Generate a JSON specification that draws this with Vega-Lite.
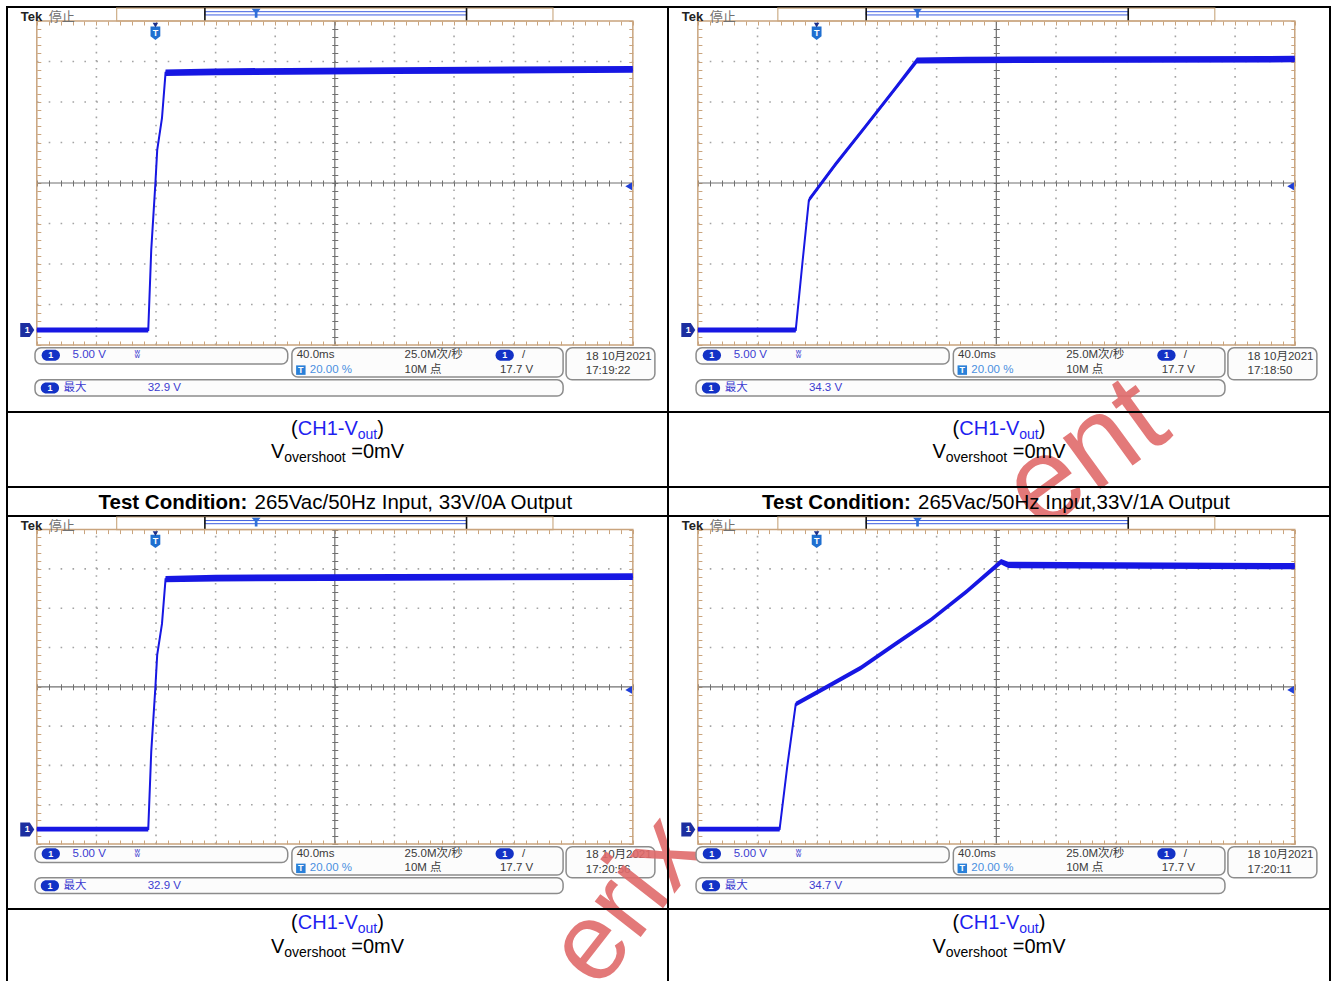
{
"$schema":"https://vega.github.io/schema/vega-lite/v6.json",
"padding":{"left":6,"top":6,"right":0,"bottom":0},
"background":"white",
"bounds":"flush",
"align":"each",
"columns":2,
"spacing":0,
"config":{"view":{"stroke":"#000000","strokeWidth":2}},
"datasets":{
"wave":[
{"p":"TL","x":0,"y":-3.63,"lo":-3.69,"hi":-3.57},{"p":"TL","x":1.87,"y":-3.63,"lo":-3.69,"hi":-3.57},{"p":"TL","x":1.92,"y":-1.65,"lo":-1.69,"hi":-1.61},{"p":"TL","x":1.99,"y":0,"lo":-0.04,"hi":0.04},{"p":"TL","x":2.02,"y":0.81,"lo":0.77,"hi":0.85},{"p":"TL","x":2.1,"y":1.6,"lo":1.55,"hi":1.65},{"p":"TL","x":2.16,"y":2.72,"lo":2.64,"hi":2.8},{"p":"TL","x":3,"y":2.74,"lo":2.66,"hi":2.83},{"p":"TL","x":6,"y":2.77,"lo":2.69,"hi":2.86},{"p":"TL","x":10,"y":2.8,"lo":2.72,"hi":2.89},
{"p":"TR","x":0,"y":-3.63,"lo":-3.69,"hi":-3.57},{"p":"TR","x":1.64,"y":-3.63,"lo":-3.69,"hi":-3.57},{"p":"TR","x":1.75,"y":-2.0,"lo":-2.05,"hi":-1.95},{"p":"TR","x":1.86,"y":-0.42,"lo":-0.48,"hi":-0.36},{"p":"TR","x":2.3,"y":0.45,"lo":0.39,"hi":0.51},{"p":"TR","x":2.8,"y":1.38,"lo":1.32,"hi":1.44},{"p":"TR","x":3.3,"y":2.32,"lo":2.26,"hi":2.38},{"p":"TR","x":3.67,"y":3.02,"lo":2.95,"hi":3.1},{"p":"TR","x":4.5,"y":3.04,"lo":2.96,"hi":3.12},{"p":"TR","x":10,"y":3.06,"lo":2.98,"hi":3.14},
{"p":"BL","x":0,"y":-3.62,"lo":-3.68,"hi":-3.56},{"p":"BL","x":1.87,"y":-3.62,"lo":-3.68,"hi":-3.56},{"p":"BL","x":1.92,"y":-1.65,"lo":-1.69,"hi":-1.61},{"p":"BL","x":1.99,"y":0,"lo":-0.04,"hi":0.04},{"p":"BL","x":2.02,"y":0.81,"lo":0.77,"hi":0.85},{"p":"BL","x":2.1,"y":1.6,"lo":1.55,"hi":1.65},{"p":"BL","x":2.16,"y":2.74,"lo":2.66,"hi":2.82},{"p":"BL","x":3,"y":2.76,"lo":2.68,"hi":2.85},{"p":"BL","x":6,"y":2.78,"lo":2.7,"hi":2.87},{"p":"BL","x":10,"y":2.8,"lo":2.72,"hi":2.89},
{"p":"BR","x":0,"y":-3.62,"lo":-3.68,"hi":-3.56},{"p":"BR","x":1.37,"y":-3.62,"lo":-3.68,"hi":-3.56},{"p":"BR","x":1.5,"y":-2.0,"lo":-2.05,"hi":-1.95},{"p":"BR","x":1.64,"y":-0.44,"lo":-0.5,"hi":-0.38},{"p":"BR","x":2.2,"y":0.03,"lo":-0.03,"hi":0.09},{"p":"BR","x":2.73,"y":0.48,"lo":0.42,"hi":0.54},{"p":"BR","x":3.3,"y":1.08,"lo":1.02,"hi":1.14},{"p":"BR","x":3.9,"y":1.7,"lo":1.64,"hi":1.76},{"p":"BR","x":4.5,"y":2.42,"lo":2.36,"hi":2.48},{"p":"BR","x":5.08,"y":3.18,"lo":3.11,"hi":3.25},{"p":"BR","x":5.2,"y":3.1,"lo":3.02,"hi":3.18},{"p":"BR","x":10,"y":3.07,"lo":2.99,"hi":3.15}
],
"frame":[
{"k":"rbar","x":1.34,"xe":8.66,"y":4.0,"ye":4.32},
{"k":"rin","x":2.82,"xe":7.21,"y":4.15,"ye":4.23},
{"k":"sbox","x":-0.03,"xe":4.21,"y":-4.07,"ye":-4.47},
{"k":"sbox","x":4.28,"xe":8.83,"y":-4.07,"ye":-4.79},
{"k":"sbox","x":8.88,"xe":10.37,"y":-4.07,"ye":-4.86},
{"k":"sbox","x":-0.03,"xe":8.83,"y":-4.86,"ye":-5.26},
{"k":"grid","x":0,"xe":10,"y":-4,"ye":4}
],
"glines":[
{"k":"vdot","x":1,"xe":1,"y":-4,"ye":4},{"k":"vdot","x":2,"xe":2,"y":-4,"ye":4},{"k":"vdot","x":3,"xe":3,"y":-4,"ye":4},{"k":"vdot","x":4,"xe":4,"y":-4,"ye":4},{"k":"vdot","x":6,"xe":6,"y":-4,"ye":4},{"k":"vdot","x":7,"xe":7,"y":-4,"ye":4},{"k":"vdot","x":8,"xe":8,"y":-4,"ye":4},{"k":"vdot","x":9,"xe":9,"y":-4,"ye":4},
{"k":"hdot","x":0,"xe":10,"y":-3,"ye":-3},{"k":"hdot","x":0,"xe":10,"y":-2,"ye":-2},{"k":"hdot","x":0,"xe":10,"y":-1,"ye":-1},{"k":"hdot","x":0,"xe":10,"y":1,"ye":1},{"k":"hdot","x":0,"xe":10,"y":2,"ye":2},{"k":"hdot","x":0,"xe":10,"y":3,"ye":3},
{"k":"ctr","x":5,"xe":5,"y":-4,"ye":4},{"k":"ctr","x":0,"xe":10,"y":0,"ye":0},
{"k":"rend","x":2.82,"xe":2.82,"y":4.0,"ye":4.32},{"k":"rend","x":7.21,"xe":7.21,"y":4.0,"ye":4.32}
],
"mk":[
{"k":"gnd","x":-0.16,"y":-3.63,"lbl":"1"},
{"k":"trig","x":1.99,"y":3.7,"lbl":"T"},
{"k":"trigtop","x":1.99,"y":3.9,"lbl":""},
{"k":"lvl","x":9.93,"y":-0.08,"lbl":""},
{"k":"rec","x":3.68,"y":4.19,"lbl":""},
{"k":"pill","x":0.235,"y":-4.25,"lbl":"1"},
{"k":"pill","x":7.85,"y":-4.25,"lbl":"1"},
{"k":"pill","x":0.22,"y":-5.06,"lbl":"1"},
{"k":"tbox","x":4.43,"y":-4.62,"lbl":"T"}
],
"ctext":[
{"x":-0.27,"y":4.1,"s":"Tek","role":"tek"},
{"x":0.2,"y":4.1,"s":"停止","role":"gray"},
{"x":0.6,"y":-4.25,"s":"5.00 V","role":"blue"},
{"x":1.64,"y":-4.25,"s":"ʬ","role":"blue"},
{"x":4.36,"y":-4.25,"s":"40.0ms","role":"black"},
{"x":4.58,"y":-4.62,"s":"20.00 %","role":"lblue"},
{"x":6.17,"y":-4.25,"s":"25.0M次/秒","role":"black"},
{"x":6.17,"y":-4.62,"s":"10M 点","role":"black"},
{"x":8.14,"y":-4.25,"s":"/","role":"black"},
{"x":7.77,"y":-4.62,"s":"17.7 V","role":"black"},
{"x":9.21,"y":-4.29,"s":"18 10月2021","role":"black"},
{"x":0.45,"y":-5.06,"s":"最大","role":"blue"}
],
"ptext":[
{"p":"TL","x":9.21,"y":-4.65,"s":"17:19:22","role":"black"},{"p":"TL","x":1.86,"y":-5.06,"s":"32.9 V","role":"blue"},
{"p":"TR","x":9.21,"y":-4.65,"s":"17:18:50","role":"black"},{"p":"TR","x":1.86,"y":-5.06,"s":"34.3 V","role":"blue"},
{"p":"BL","x":9.21,"y":-4.65,"s":"17:20:56","role":"black"},{"p":"BL","x":1.86,"y":-5.06,"s":"32.9 V","role":"blue"},
{"p":"BR","x":9.21,"y":-4.65,"s":"17:20:11","role":"black"},{"p":"BR","x":1.86,"y":-5.06,"s":"34.7 V","role":"blue"}
],
"wm":[
{"p":"BL","x":9.9,"y":-5.45,"s":"erix"},
{"p":"TR","x":6.5,"y":-6.72,"s":"ent"}
],
"cap":[{"k":"o","s":"("},{"k":"ch","s":"CH1-V"},{"k":"out","s":"out"},{"k":"c","s":")"},{"k":"V","s":"V"},{"k":"os","s":"overshoot"},{"k":"eq","s":"=0mV"}],
"cond":[{"k":"b","s":"Test Condition:"},{"k":"L","s":"265Vac/50Hz Input, 33V/0A Output"},{"k":"R","s":"265Vac/50Hz Input,33V/1A Output"}]
},
"concat":[
{"width":661,"height":405,"resolve":{"axis":{"x":"independent","y":"independent"}},
"encoding":{"x":{"field":"x","type":"quantitative","scale":{"domain":[-0.5,10.59],"nice":false,"zero":false},"axis":null},"y":{"field":"y","type":"quantitative","scale":{"domain":[-5.654,4.346],"nice":false,"zero":false},"axis":null}},
"layer":[
{"data":{"name":"frame"},"transform":[{"filter":"datum.k=='rbar'"}],"mark":{"type":"rect","fill":"#ffffff","stroke":"#cdae88","strokeWidth":1.2},"encoding":{"x2":{"field":"xe"},"y2":{"field":"ye"}}},
{"data":{"name":"frame"},"transform":[{"filter":"datum.k=='rin'"}],"mark":{"type":"rect","fill":"#ffffff","stroke":"#3d5ee0","strokeWidth":1},"encoding":{"x2":{"field":"xe"},"y2":{"field":"ye"}}},
{"data":{"name":"glines"},"transform":[{"filter":"datum.k=='rend'"}],"mark":{"type":"rule","color":"#111111","strokeWidth":1.6},"encoding":{"x2":{"field":"xe"},"y2":{"field":"ye"}}},
{"data":{"name":"frame"},"transform":[{"filter":"datum.k=='sbox'"}],"mark":{"type":"rect","fill":"#fcfcfc","stroke":"#8c8c8c","strokeWidth":1.5,"cornerRadius":6},"encoding":{"x2":{"field":"xe"},"y2":{"field":"ye"}}},
{"data":{"name":"glines"},"transform":[{"filter":"datum.k=='vdot'"}],"mark":{"type":"rule","color":"#a4a4a4","strokeWidth":1.6,"strokeDash":[1.6,6.5]},
"encoding":{"x":{"field":"x","type":"quantitative","scale":{"domain":[-0.5,10.59],"nice":false,"zero":false},"axis":{"orient":"top","offset":-338,"values":[0,0.2,0.4,0.6,0.8,1,1.2,1.4,1.6,1.8,2,2.2,2.4,2.6,2.8,3,3.2,3.4,3.6,3.8,4,4.2,4.4,4.6,4.8,5,5.2,5.4,5.6,5.8,6,6.2,6.4,6.6,6.8,7,7.2,7.4,7.6,7.8,8,8.2,8.4,8.6,8.8,9,9.2,9.4,9.6,9.8,10],"tickSize":4,"tickColor":"#c9a47e","tickWidth":1,"domain":false,"labels":false,"grid":false,"title":null}},"x2":{"field":"xe"},
"y":{"field":"y","type":"quantitative","scale":{"domain":[-5.654,4.346],"nice":false,"zero":false},"axis":{"orient":"right","offset":-631.2,"values":[-4,-3.8,-3.6,-3.4,-3.2,-3,-2.8,-2.6,-2.4,-2.2,-2,-1.8,-1.6,-1.4,-1.2,-1,-0.8,-0.6,-0.4,-0.2,0,0.2,0.4,0.6,0.8,1,1.2,1.4,1.6,1.8,2,2.2,2.4,2.6,2.8,3,3.2,3.4,3.6,3.8,4],"tickSize":4,"tickColor":"#c9a47e","tickWidth":1,"domain":false,"labels":false,"grid":false,"title":null}},"y2":{"field":"ye"}}},
{"data":{"name":"glines"},"transform":[{"filter":"datum.k=='hdot'"}],"mark":{"type":"rule","color":"#a4a4a4","strokeWidth":1.6,"strokeDash":[1.6,10.3]},
"encoding":{"x":{"field":"x","type":"quantitative","scale":{"domain":[-0.5,10.59],"nice":false,"zero":false},"axis":{"orient":"bottom","offset":-391,"values":[0,0.2,0.4,0.6,0.8,1,1.2,1.4,1.6,1.8,2,2.2,2.4,2.6,2.8,3,3.2,3.4,3.6,3.8,4,4.2,4.4,4.6,4.8,5,5.2,5.4,5.6,5.8,6,6.2,6.4,6.6,6.8,7,7.2,7.4,7.6,7.8,8,8.2,8.4,8.6,8.8,9,9.2,9.4,9.6,9.8,10],"tickSize":4,"tickColor":"#c9a47e","tickWidth":1,"domain":false,"labels":false,"grid":false,"title":null}},"x2":{"field":"xe"},
"y":{"field":"y","type":"quantitative","scale":{"domain":[-5.654,4.346],"nice":false,"zero":false},"axis":{"orient":"left","offset":-625.8,"values":[-4,-3.8,-3.6,-3.4,-3.2,-3,-2.8,-2.6,-2.4,-2.2,-2,-1.8,-1.6,-1.4,-1.2,-1,-0.8,-0.6,-0.4,-0.2,0,0.2,0.4,0.6,0.8,1,1.2,1.4,1.6,1.8,2,2.2,2.4,2.6,2.8,3,3.2,3.4,3.6,3.8,4],"tickSize":4,"tickColor":"#c9a47e","tickWidth":1,"domain":false,"labels":false,"grid":false,"title":null}},"y2":{"field":"ye"}}},
{"data":{"name":"glines"},"transform":[{"filter":"datum.k=='ctr'"}],"mark":{"type":"rule","color":"#707070","strokeWidth":1.2},
"encoding":{"x":{"field":"x","type":"quantitative","scale":{"domain":[-0.5,10.59],"nice":false,"zero":false},"axis":{"orient":"bottom","offset":-232,"values":[0,0.2,0.4,0.6,0.8,1,1.2,1.4,1.6,1.8,2,2.2,2.4,2.6,2.8,3,3.2,3.4,3.6,3.8,4,4.2,4.4,4.6,4.8,5,5.2,5.4,5.6,5.8,6,6.2,6.4,6.6,6.8,7,7.2,7.4,7.6,7.8,8,8.2,8.4,8.6,8.8,9,9.2,9.4,9.6,9.8,10],"tickSize":6,"tickColor":"#707070","tickWidth":1,"domain":false,"labels":false,"grid":false,"title":null}},"x2":{"field":"xe"},
"y":{"field":"y","type":"quantitative","scale":{"domain":[-5.654,4.346],"nice":false,"zero":false},"axis":{"orient":"left","offset":-330.8,"values":[-4,-3.8,-3.6,-3.4,-3.2,-3,-2.8,-2.6,-2.4,-2.2,-2,-1.8,-1.6,-1.4,-1.2,-1,-0.8,-0.6,-0.4,-0.2,0,0.2,0.4,0.6,0.8,1,1.2,1.4,1.6,1.8,2,2.2,2.4,2.6,2.8,3,3.2,3.4,3.6,3.8,4],"tickSize":6,"tickColor":"#707070","tickWidth":1,"domain":false,"labels":false,"grid":false,"title":null}},"y2":{"field":"ye"}}},
{"data":{"name":"frame"},"transform":[{"filter":"datum.k=='grid'"}],"mark":{"type":"rect","fill":"#ffffff","fillOpacity":0,"stroke":"#c9a47e","strokeWidth":1.5},"encoding":{"x2":{"field":"xe"},"y2":{"field":"ye"}}},
{"data":{"name":"wave"},"transform":[{"filter":"datum.p=='TL'"}],"mark":{"type":"area","color":"#1717e3","opacity":1},"encoding":{"y":{"field":"lo","type":"quantitative","scale":{"domain":[-5.654,4.346],"nice":false,"zero":false},"axis":null},"y2":{"field":"hi"}}},
{"data":{"name":"wave"},"transform":[{"filter":"datum.p=='TL'"}],"mark":{"type":"line","color":"#1717e3","strokeWidth":2},"encoding":{}},
{"data":{"name":"mk"},"mark":{"type":"point","filled":true,"opacity":1,"strokeWidth":0},"encoding":{
"shape":{"field":"k","type":"nominal","scale":{"domain":["gnd","trig","trigtop","lvl","rec","pill","tbox"],"range":["M-1,-1L0.35,-1L1,0L0.35,1L-1,1Z","M-0.8,-1.1L0.8,-1.1L0.8,0.5L0,1.1L-0.8,0.5Z","triangle-down","triangle-left","M-1,-1L1,-1L0.3,-0.2L0.3,1L-0.3,1L-0.3,-0.2Z","M-0.33,-0.5L0.33,-0.5A0.5,0.5 0 0 1 0.33,0.5L-0.33,0.5A0.5,0.5 0 0 1 -0.33,-0.5Z","square"]},"legend":null},
"fill":{"field":"k","type":"nominal","scale":{"domain":["gnd","trig","trigtop","lvl","rec","pill","tbox"],"range":["#1c2ea0","#1f6fd0","#1a2f8a","#1f3fd8","#2f6fd8","#1332c6","#2a80d8"]},"legend":null},
"size":{"field":"k","type":"ordinal","scale":{"type":"ordinal","domain":["gnd","trig","trigtop","lvl","rec","pill","tbox"],"range":[196,150,30,60,80,484,90]},"legend":null}}},
{"data":{"name":"mk"},"transform":[{"filter":"datum.lbl!=''"}],"mark":{"type":"text","color":"#ffffff","fontSize":9,"fontWeight":"bold","font":"Liberation Sans","align":"center","baseline":"middle"},"encoding":{"text":{"field":"lbl"}}},
{"data":{"name":"ctext"},"transform":[{"filter":"datum.role=='tek'"}],"mark":{"type":"text","align":"left","baseline":"middle","fontSize":13,"fontWeight":"bold","font":"Liberation Sans","color":"#222222"},"encoding":{"text":{"field":"s"}}},
{"data":{"name":"ctext"},"transform":[{"filter":"datum.role=='gray'"}],"mark":{"type":"text","align":"left","baseline":"middle","fontSize":13,"font":"Noto Sans CJK SC","color":"#707070"},"encoding":{"text":{"field":"s"}}},
{"data":{"name":"ctext"},"transform":[{"filter":"datum.role!='tek' && datum.role!='gray'"}],"mark":{"type":"text","align":"left","baseline":"middle","fontSize":11.5,"font":"Liberation Sans, Noto Sans CJK SC"},"encoding":{"text":{"field":"s"},"color":{"field":"role","type":"nominal","scale":{"domain":["black","blue","lblue"],"range":["#3a3a3a","#3b3bd0","#4a8fe0"]},"legend":null}}},
{"data":{"name":"ptext"},"transform":[{"filter":"datum.p=='TL'"}],"mark":{"type":"text","align":"left","baseline":"middle","fontSize":11.5,"font":"Liberation Sans, Noto Sans CJK SC"},"encoding":{"text":{"field":"s"},"color":{"field":"role","type":"nominal","scale":{"domain":["black","blue","lblue"],"range":["#3a3a3a","#3b3bd0","#4a8fe0"]},"legend":null}}}
]},
{"width":662,"height":405,"resolve":{"axis":{"x":"independent","y":"independent"}},
"encoding":{"x":{"field":"x","type":"quantitative","scale":{"domain":[-0.5,10.59],"nice":false,"zero":false},"axis":null},"y":{"field":"y","type":"quantitative","scale":{"domain":[-5.654,4.346],"nice":false,"zero":false},"axis":null}},
"layer":[
{"data":{"name":"frame"},"transform":[{"filter":"datum.k=='rbar'"}],"mark":{"type":"rect","fill":"#ffffff","stroke":"#cdae88","strokeWidth":1.2},"encoding":{"x2":{"field":"xe"},"y2":{"field":"ye"}}},
{"data":{"name":"frame"},"transform":[{"filter":"datum.k=='rin'"}],"mark":{"type":"rect","fill":"#ffffff","stroke":"#3d5ee0","strokeWidth":1},"encoding":{"x2":{"field":"xe"},"y2":{"field":"ye"}}},
{"data":{"name":"glines"},"transform":[{"filter":"datum.k=='rend'"}],"mark":{"type":"rule","color":"#111111","strokeWidth":1.6},"encoding":{"x2":{"field":"xe"},"y2":{"field":"ye"}}},
{"data":{"name":"frame"},"transform":[{"filter":"datum.k=='sbox'"}],"mark":{"type":"rect","fill":"#fcfcfc","stroke":"#8c8c8c","strokeWidth":1.5,"cornerRadius":6},"encoding":{"x2":{"field":"xe"},"y2":{"field":"ye"}}},
{"data":{"name":"glines"},"transform":[{"filter":"datum.k=='vdot'"}],"mark":{"type":"rule","color":"#a4a4a4","strokeWidth":1.6,"strokeDash":[1.6,6.5]},
"encoding":{"x":{"field":"x","type":"quantitative","scale":{"domain":[-0.5,10.59],"nice":false,"zero":false},"axis":{"orient":"top","offset":-338,"values":[0,0.2,0.4,0.6,0.8,1,1.2,1.4,1.6,1.8,2,2.2,2.4,2.6,2.8,3,3.2,3.4,3.6,3.8,4,4.2,4.4,4.6,4.8,5,5.2,5.4,5.6,5.8,6,6.2,6.4,6.6,6.8,7,7.2,7.4,7.6,7.8,8,8.2,8.4,8.6,8.8,9,9.2,9.4,9.6,9.8,10],"tickSize":4,"tickColor":"#c9a47e","tickWidth":1,"domain":false,"labels":false,"grid":false,"title":null}},"x2":{"field":"xe"},
"y":{"field":"y","type":"quantitative","scale":{"domain":[-5.654,4.346],"nice":false,"zero":false},"axis":{"orient":"right","offset":-632.1,"values":[-4,-3.8,-3.6,-3.4,-3.2,-3,-2.8,-2.6,-2.4,-2.2,-2,-1.8,-1.6,-1.4,-1.2,-1,-0.8,-0.6,-0.4,-0.2,0,0.2,0.4,0.6,0.8,1,1.2,1.4,1.6,1.8,2,2.2,2.4,2.6,2.8,3,3.2,3.4,3.6,3.8,4],"tickSize":4,"tickColor":"#c9a47e","tickWidth":1,"domain":false,"labels":false,"grid":false,"title":null}},"y2":{"field":"ye"}}},
{"data":{"name":"glines"},"transform":[{"filter":"datum.k=='hdot'"}],"mark":{"type":"rule","color":"#a4a4a4","strokeWidth":1.6,"strokeDash":[1.6,10.3]},
"encoding":{"x":{"field":"x","type":"quantitative","scale":{"domain":[-0.5,10.59],"nice":false,"zero":false},"axis":{"orient":"bottom","offset":-391,"values":[0,0.2,0.4,0.6,0.8,1,1.2,1.4,1.6,1.8,2,2.2,2.4,2.6,2.8,3,3.2,3.4,3.6,3.8,4,4.2,4.4,4.6,4.8,5,5.2,5.4,5.6,5.8,6,6.2,6.4,6.6,6.8,7,7.2,7.4,7.6,7.8,8,8.2,8.4,8.6,8.8,9,9.2,9.4,9.6,9.8,10],"tickSize":4,"tickColor":"#c9a47e","tickWidth":1,"domain":false,"labels":false,"grid":false,"title":null}},"x2":{"field":"xe"},
"y":{"field":"y","type":"quantitative","scale":{"domain":[-5.654,4.346],"nice":false,"zero":false},"axis":{"orient":"left","offset":-626.8,"values":[-4,-3.8,-3.6,-3.4,-3.2,-3,-2.8,-2.6,-2.4,-2.2,-2,-1.8,-1.6,-1.4,-1.2,-1,-0.8,-0.6,-0.4,-0.2,0,0.2,0.4,0.6,0.8,1,1.2,1.4,1.6,1.8,2,2.2,2.4,2.6,2.8,3,3.2,3.4,3.6,3.8,4],"tickSize":4,"tickColor":"#c9a47e","tickWidth":1,"domain":false,"labels":false,"grid":false,"title":null}},"y2":{"field":"ye"}}},
{"data":{"name":"glines"},"transform":[{"filter":"datum.k=='ctr'"}],"mark":{"type":"rule","color":"#707070","strokeWidth":1.2},
"encoding":{"x":{"field":"x","type":"quantitative","scale":{"domain":[-0.5,10.59],"nice":false,"zero":false},"axis":{"orient":"bottom","offset":-232,"values":[0,0.2,0.4,0.6,0.8,1,1.2,1.4,1.6,1.8,2,2.2,2.4,2.6,2.8,3,3.2,3.4,3.6,3.8,4,4.2,4.4,4.6,4.8,5,5.2,5.4,5.6,5.8,6,6.2,6.4,6.6,6.8,7,7.2,7.4,7.6,7.8,8,8.2,8.4,8.6,8.8,9,9.2,9.4,9.6,9.8,10],"tickSize":6,"tickColor":"#707070","tickWidth":1,"domain":false,"labels":false,"grid":false,"title":null}},"x2":{"field":"xe"},
"y":{"field":"y","type":"quantitative","scale":{"domain":[-5.654,4.346],"nice":false,"zero":false},"axis":{"orient":"left","offset":-331.3,"values":[-4,-3.8,-3.6,-3.4,-3.2,-3,-2.8,-2.6,-2.4,-2.2,-2,-1.8,-1.6,-1.4,-1.2,-1,-0.8,-0.6,-0.4,-0.2,0,0.2,0.4,0.6,0.8,1,1.2,1.4,1.6,1.8,2,2.2,2.4,2.6,2.8,3,3.2,3.4,3.6,3.8,4],"tickSize":6,"tickColor":"#707070","tickWidth":1,"domain":false,"labels":false,"grid":false,"title":null}},"y2":{"field":"ye"}}},
{"data":{"name":"frame"},"transform":[{"filter":"datum.k=='grid'"}],"mark":{"type":"rect","fill":"#ffffff","fillOpacity":0,"stroke":"#c9a47e","strokeWidth":1.5},"encoding":{"x2":{"field":"xe"},"y2":{"field":"ye"}}},
{"data":{"name":"wave"},"transform":[{"filter":"datum.p=='TR'"}],"mark":{"type":"area","color":"#1717e3","opacity":1},"encoding":{"y":{"field":"lo","type":"quantitative","scale":{"domain":[-5.654,4.346],"nice":false,"zero":false},"axis":null},"y2":{"field":"hi"}}},
{"data":{"name":"wave"},"transform":[{"filter":"datum.p=='TR'"}],"mark":{"type":"line","color":"#1717e3","strokeWidth":2},"encoding":{}},
{"data":{"name":"mk"},"mark":{"type":"point","filled":true,"opacity":1,"strokeWidth":0},"encoding":{
"shape":{"field":"k","type":"nominal","scale":{"domain":["gnd","trig","trigtop","lvl","rec","pill","tbox"],"range":["M-1,-1L0.35,-1L1,0L0.35,1L-1,1Z","M-0.8,-1.1L0.8,-1.1L0.8,0.5L0,1.1L-0.8,0.5Z","triangle-down","triangle-left","M-1,-1L1,-1L0.3,-0.2L0.3,1L-0.3,1L-0.3,-0.2Z","M-0.33,-0.5L0.33,-0.5A0.5,0.5 0 0 1 0.33,0.5L-0.33,0.5A0.5,0.5 0 0 1 -0.33,-0.5Z","square"]},"legend":null},
"fill":{"field":"k","type":"nominal","scale":{"domain":["gnd","trig","trigtop","lvl","rec","pill","tbox"],"range":["#1c2ea0","#1f6fd0","#1a2f8a","#1f3fd8","#2f6fd8","#1332c6","#2a80d8"]},"legend":null},
"size":{"field":"k","type":"ordinal","scale":{"type":"ordinal","domain":["gnd","trig","trigtop","lvl","rec","pill","tbox"],"range":[196,150,30,60,80,484,90]},"legend":null}}},
{"data":{"name":"mk"},"transform":[{"filter":"datum.lbl!=''"}],"mark":{"type":"text","color":"#ffffff","fontSize":9,"fontWeight":"bold","font":"Liberation Sans","align":"center","baseline":"middle"},"encoding":{"text":{"field":"lbl"}}},
{"data":{"name":"ctext"},"transform":[{"filter":"datum.role=='tek'"}],"mark":{"type":"text","align":"left","baseline":"middle","fontSize":13,"fontWeight":"bold","font":"Liberation Sans","color":"#222222"},"encoding":{"text":{"field":"s"}}},
{"data":{"name":"ctext"},"transform":[{"filter":"datum.role=='gray'"}],"mark":{"type":"text","align":"left","baseline":"middle","fontSize":13,"font":"Noto Sans CJK SC","color":"#707070"},"encoding":{"text":{"field":"s"}}},
{"data":{"name":"ctext"},"transform":[{"filter":"datum.role!='tek' && datum.role!='gray'"}],"mark":{"type":"text","align":"left","baseline":"middle","fontSize":11.5,"font":"Liberation Sans, Noto Sans CJK SC"},"encoding":{"text":{"field":"s"},"color":{"field":"role","type":"nominal","scale":{"domain":["black","blue","lblue"],"range":["#3a3a3a","#3b3bd0","#4a8fe0"]},"legend":null}}},
{"data":{"name":"ptext"},"transform":[{"filter":"datum.p=='TR'"}],"mark":{"type":"text","align":"left","baseline":"middle","fontSize":11.5,"font":"Liberation Sans, Noto Sans CJK SC"},"encoding":{"text":{"field":"s"},"color":{"field":"role","type":"nominal","scale":{"domain":["black","blue","lblue"],"range":["#3a3a3a","#3b3bd0","#4a8fe0"]},"legend":null}}},
{"data":{"name":"wm"},"transform":[{"filter":"datum.p=='TR'"}],"mark":{"type":"text","angle":-36,"fontSize":120,"font":"Liberation Sans","color":"#e06b6b","opacity":0.9,"align":"center","baseline":"middle"},"encoding":{"text":{"field":"s"}}}
]},
{"width":661,"height":75,"data":{"name":"cap"},"view":{"stroke":"#000000","strokeWidth":2},
"encoding":{"x":{"datum":0.5,"type":"quantitative","scale":{"domain":[0,1]},"axis":null},"y":{"datum":0.5,"type":"quantitative","scale":{"domain":[0,1]},"axis":null}},
"layer":[
{"transform":[{"filter":"datum.k=='o'"}],"mark":{"type":"text","align":"left","baseline":"alphabetic","font":"Liberation Sans","fontSize":20,"color":"#000000","dx":-46.4,"dy":-15},"encoding":{"text":{"field":"s"}}},
{"transform":[{"filter":"datum.k=='ch'"}],"mark":{"type":"text","align":"left","baseline":"alphabetic","font":"Liberation Sans","fontSize":20,"color":"#1f1ff0","dx":-39.7,"dy":-15},"encoding":{"text":{"field":"s"}}},
{"transform":[{"filter":"datum.k=='out'"}],"mark":{"type":"text","align":"left","baseline":"alphabetic","font":"Liberation Sans","fontSize":14,"color":"#1f1ff0","dx":20.3,"dy":-11},"encoding":{"text":{"field":"s"}}},
{"transform":[{"filter":"datum.k=='c'"}],"mark":{"type":"text","align":"left","baseline":"alphabetic","font":"Liberation Sans","fontSize":20,"color":"#000000","dx":39.8,"dy":-15},"encoding":{"text":{"field":"s"}}},
{"transform":[{"filter":"datum.k=='V'"}],"mark":{"type":"text","align":"left","baseline":"alphabetic","font":"Liberation Sans","fontSize":20,"color":"#000000","dx":-66.6,"dy":8},"encoding":{"text":{"field":"s"}}},
{"transform":[{"filter":"datum.k=='os'"}],"mark":{"type":"text","align":"left","baseline":"alphabetic","font":"Liberation Sans","fontSize":14,"color":"#000000","dx":-53.3,"dy":12},"encoding":{"text":{"field":"s"}}},
{"transform":[{"filter":"datum.k=='eq'"}],"mark":{"type":"text","align":"left","baseline":"alphabetic","font":"Liberation Sans","fontSize":20,"color":"#000000","dx":13.8,"dy":8},"encoding":{"text":{"field":"s"}}}
]},
{"width":662,"height":75,"data":{"name":"cap"},"view":{"stroke":"#000000","strokeWidth":2},
"encoding":{"x":{"datum":0.5,"type":"quantitative","scale":{"domain":[0,1]},"axis":null},"y":{"datum":0.5,"type":"quantitative","scale":{"domain":[0,1]},"axis":null}},
"layer":[
{"transform":[{"filter":"datum.k=='o'"}],"mark":{"type":"text","align":"left","baseline":"alphabetic","font":"Liberation Sans","fontSize":20,"color":"#000000","dx":-46.4,"dy":-15},"encoding":{"text":{"field":"s"}}},
{"transform":[{"filter":"datum.k=='ch'"}],"mark":{"type":"text","align":"left","baseline":"alphabetic","font":"Liberation Sans","fontSize":20,"color":"#1f1ff0","dx":-39.7,"dy":-15},"encoding":{"text":{"field":"s"}}},
{"transform":[{"filter":"datum.k=='out'"}],"mark":{"type":"text","align":"left","baseline":"alphabetic","font":"Liberation Sans","fontSize":14,"color":"#1f1ff0","dx":20.3,"dy":-11},"encoding":{"text":{"field":"s"}}},
{"transform":[{"filter":"datum.k=='c'"}],"mark":{"type":"text","align":"left","baseline":"alphabetic","font":"Liberation Sans","fontSize":20,"color":"#000000","dx":39.8,"dy":-15},"encoding":{"text":{"field":"s"}}},
{"transform":[{"filter":"datum.k=='V'"}],"mark":{"type":"text","align":"left","baseline":"alphabetic","font":"Liberation Sans","fontSize":20,"color":"#000000","dx":-66.6,"dy":8},"encoding":{"text":{"field":"s"}}},
{"transform":[{"filter":"datum.k=='os'"}],"mark":{"type":"text","align":"left","baseline":"alphabetic","font":"Liberation Sans","fontSize":14,"color":"#000000","dx":-53.3,"dy":12},"encoding":{"text":{"field":"s"}}},
{"transform":[{"filter":"datum.k=='eq'"}],"mark":{"type":"text","align":"left","baseline":"alphabetic","font":"Liberation Sans","fontSize":20,"color":"#000000","dx":13.8,"dy":8},"encoding":{"text":{"field":"s"}}}
]},
{"width":661,"height":29,"data":{"name":"cond"},"view":{"stroke":"#000000","strokeWidth":2},
"encoding":{"x":{"datum":0.5,"type":"quantitative","scale":{"domain":[0,1]},"axis":null},"y":{"datum":0.5,"type":"quantitative","scale":{"domain":[0,1]},"axis":null}},
"layer":[
{"transform":[{"filter":"datum.k=='b'"}],"mark":{"type":"text","align":"left","baseline":"alphabetic","font":"Liberation Sans","fontSize":20.5,"fontWeight":"bold","color":"#000000","dx":-239,"dy":7},"encoding":{"text":{"field":"s"}}},
{"transform":[{"filter":"datum.k=='L'"}],"mark":{"type":"text","align":"left","baseline":"alphabetic","font":"Liberation Sans","fontSize":20.5,"color":"#000000","dx":-83,"dy":7},"encoding":{"text":{"field":"s"}}}
]},
{"width":662,"height":29,"data":{"name":"cond"},"view":{"stroke":"#000000","strokeWidth":2},
"encoding":{"x":{"datum":0.5,"type":"quantitative","scale":{"domain":[0,1]},"axis":null},"y":{"datum":0.5,"type":"quantitative","scale":{"domain":[0,1]},"axis":null}},
"layer":[
{"transform":[{"filter":"datum.k=='b'"}],"mark":{"type":"text","align":"left","baseline":"alphabetic","font":"Liberation Sans","fontSize":20.5,"fontWeight":"bold","color":"#000000","dx":-237,"dy":7},"encoding":{"text":{"field":"s"}}},
{"transform":[{"filter":"datum.k=='R'"}],"mark":{"type":"text","align":"left","baseline":"alphabetic","font":"Liberation Sans","fontSize":20.5,"color":"#000000","dx":-81,"dy":7},"encoding":{"text":{"field":"s"}}}
]},
{"width":661,"height":393,"resolve":{"axis":{"x":"independent","y":"independent"}},
"encoding":{"x":{"field":"x","type":"quantitative","scale":{"domain":[-0.5,10.59],"nice":false,"zero":false},"axis":null},"y":{"field":"y","type":"quantitative","scale":{"domain":[-5.654,4.346],"nice":false,"zero":false},"axis":null}},
"layer":[
{"data":{"name":"frame"},"transform":[{"filter":"datum.k=='rbar'"}],"mark":{"type":"rect","fill":"#ffffff","stroke":"#cdae88","strokeWidth":1.2},"encoding":{"x2":{"field":"xe"},"y2":{"field":"ye"}}},
{"data":{"name":"frame"},"transform":[{"filter":"datum.k=='rin'"}],"mark":{"type":"rect","fill":"#ffffff","stroke":"#3d5ee0","strokeWidth":1},"encoding":{"x2":{"field":"xe"},"y2":{"field":"ye"}}},
{"data":{"name":"glines"},"transform":[{"filter":"datum.k=='rend'"}],"mark":{"type":"rule","color":"#111111","strokeWidth":1.6},"encoding":{"x2":{"field":"xe"},"y2":{"field":"ye"}}},
{"data":{"name":"frame"},"transform":[{"filter":"datum.k=='sbox'"}],"mark":{"type":"rect","fill":"#fcfcfc","stroke":"#8c8c8c","strokeWidth":1.5,"cornerRadius":6},"encoding":{"x2":{"field":"xe"},"y2":{"field":"ye"}}},
{"data":{"name":"glines"},"transform":[{"filter":"datum.k=='vdot'"}],"mark":{"type":"rule","color":"#a4a4a4","strokeWidth":1.6,"strokeDash":[1.6,6.26]},
"encoding":{"x":{"field":"x","type":"quantitative","scale":{"domain":[-0.5,10.59],"nice":false,"zero":false},"axis":{"orient":"top","offset":-328,"values":[0,0.2,0.4,0.6,0.8,1,1.2,1.4,1.6,1.8,2,2.2,2.4,2.6,2.8,3,3.2,3.4,3.6,3.8,4,4.2,4.4,4.6,4.8,5,5.2,5.4,5.6,5.8,6,6.2,6.4,6.6,6.8,7,7.2,7.4,7.6,7.8,8,8.2,8.4,8.6,8.8,9,9.2,9.4,9.6,9.8,10],"tickSize":4,"tickColor":"#c9a47e","tickWidth":1,"domain":false,"labels":false,"grid":false,"title":null}},"x2":{"field":"xe"},
"y":{"field":"y","type":"quantitative","scale":{"domain":[-5.654,4.346],"nice":false,"zero":false},"axis":{"orient":"right","offset":-631.2,"values":[-4,-3.8,-3.6,-3.4,-3.2,-3,-2.8,-2.6,-2.4,-2.2,-2,-1.8,-1.6,-1.4,-1.2,-1,-0.8,-0.6,-0.4,-0.2,0,0.2,0.4,0.6,0.8,1,1.2,1.4,1.6,1.8,2,2.2,2.4,2.6,2.8,3,3.2,3.4,3.6,3.8,4],"tickSize":4,"tickColor":"#c9a47e","tickWidth":1,"domain":false,"labels":false,"grid":false,"title":null}},"y2":{"field":"ye"}}},
{"data":{"name":"glines"},"transform":[{"filter":"datum.k=='hdot'"}],"mark":{"type":"rule","color":"#a4a4a4","strokeWidth":1.6,"strokeDash":[1.6,10.3]},
"encoding":{"x":{"field":"x","type":"quantitative","scale":{"domain":[-0.5,10.59],"nice":false,"zero":false},"axis":{"orient":"bottom","offset":-379.4,"values":[0,0.2,0.4,0.6,0.8,1,1.2,1.4,1.6,1.8,2,2.2,2.4,2.6,2.8,3,3.2,3.4,3.6,3.8,4,4.2,4.4,4.6,4.8,5,5.2,5.4,5.6,5.8,6,6.2,6.4,6.6,6.8,7,7.2,7.4,7.6,7.8,8,8.2,8.4,8.6,8.8,9,9.2,9.4,9.6,9.8,10],"tickSize":4,"tickColor":"#c9a47e","tickWidth":1,"domain":false,"labels":false,"grid":false,"title":null}},"x2":{"field":"xe"},
"y":{"field":"y","type":"quantitative","scale":{"domain":[-5.654,4.346],"nice":false,"zero":false},"axis":{"orient":"left","offset":-625.8,"values":[-4,-3.8,-3.6,-3.4,-3.2,-3,-2.8,-2.6,-2.4,-2.2,-2,-1.8,-1.6,-1.4,-1.2,-1,-0.8,-0.6,-0.4,-0.2,0,0.2,0.4,0.6,0.8,1,1.2,1.4,1.6,1.8,2,2.2,2.4,2.6,2.8,3,3.2,3.4,3.6,3.8,4],"tickSize":4,"tickColor":"#c9a47e","tickWidth":1,"domain":false,"labels":false,"grid":false,"title":null}},"y2":{"field":"ye"}}},
{"data":{"name":"glines"},"transform":[{"filter":"datum.k=='ctr'"}],"mark":{"type":"rule","color":"#707070","strokeWidth":1.2},
"encoding":{"x":{"field":"x","type":"quantitative","scale":{"domain":[-0.5,10.59],"nice":false,"zero":false},"axis":{"orient":"bottom","offset":-225.2,"values":[0,0.2,0.4,0.6,0.8,1,1.2,1.4,1.6,1.8,2,2.2,2.4,2.6,2.8,3,3.2,3.4,3.6,3.8,4,4.2,4.4,4.6,4.8,5,5.2,5.4,5.6,5.8,6,6.2,6.4,6.6,6.8,7,7.2,7.4,7.6,7.8,8,8.2,8.4,8.6,8.8,9,9.2,9.4,9.6,9.8,10],"tickSize":6,"tickColor":"#707070","tickWidth":1,"domain":false,"labels":false,"grid":false,"title":null}},"x2":{"field":"xe"},
"y":{"field":"y","type":"quantitative","scale":{"domain":[-5.654,4.346],"nice":false,"zero":false},"axis":{"orient":"left","offset":-330.8,"values":[-4,-3.8,-3.6,-3.4,-3.2,-3,-2.8,-2.6,-2.4,-2.2,-2,-1.8,-1.6,-1.4,-1.2,-1,-0.8,-0.6,-0.4,-0.2,0,0.2,0.4,0.6,0.8,1,1.2,1.4,1.6,1.8,2,2.2,2.4,2.6,2.8,3,3.2,3.4,3.6,3.8,4],"tickSize":6,"tickColor":"#707070","tickWidth":1,"domain":false,"labels":false,"grid":false,"title":null}},"y2":{"field":"ye"}}},
{"data":{"name":"frame"},"transform":[{"filter":"datum.k=='grid'"}],"mark":{"type":"rect","fill":"#ffffff","fillOpacity":0,"stroke":"#c9a47e","strokeWidth":1.5},"encoding":{"x2":{"field":"xe"},"y2":{"field":"ye"}}},
{"data":{"name":"wave"},"transform":[{"filter":"datum.p=='BL'"}],"mark":{"type":"area","color":"#1717e3","opacity":1},"encoding":{"y":{"field":"lo","type":"quantitative","scale":{"domain":[-5.654,4.346],"nice":false,"zero":false},"axis":null},"y2":{"field":"hi"}}},
{"data":{"name":"wave"},"transform":[{"filter":"datum.p=='BL'"}],"mark":{"type":"line","color":"#1717e3","strokeWidth":2},"encoding":{}},
{"data":{"name":"mk"},"mark":{"type":"point","filled":true,"opacity":1,"strokeWidth":0},"encoding":{
"shape":{"field":"k","type":"nominal","scale":{"domain":["gnd","trig","trigtop","lvl","rec","pill","tbox"],"range":["M-1,-1L0.35,-1L1,0L0.35,1L-1,1Z","M-0.8,-1.1L0.8,-1.1L0.8,0.5L0,1.1L-0.8,0.5Z","triangle-down","triangle-left","M-1,-1L1,-1L0.3,-0.2L0.3,1L-0.3,1L-0.3,-0.2Z","M-0.33,-0.5L0.33,-0.5A0.5,0.5 0 0 1 0.33,0.5L-0.33,0.5A0.5,0.5 0 0 1 -0.33,-0.5Z","square"]},"legend":null},
"fill":{"field":"k","type":"nominal","scale":{"domain":["gnd","trig","trigtop","lvl","rec","pill","tbox"],"range":["#1c2ea0","#1f6fd0","#1a2f8a","#1f3fd8","#2f6fd8","#1332c6","#2a80d8"]},"legend":null},
"size":{"field":"k","type":"ordinal","scale":{"type":"ordinal","domain":["gnd","trig","trigtop","lvl","rec","pill","tbox"],"range":[196,150,30,60,80,484,90]},"legend":null}}},
{"data":{"name":"mk"},"transform":[{"filter":"datum.lbl!=''"}],"mark":{"type":"text","color":"#ffffff","fontSize":9,"fontWeight":"bold","font":"Liberation Sans","align":"center","baseline":"middle"},"encoding":{"text":{"field":"lbl"}}},
{"data":{"name":"ctext"},"transform":[{"filter":"datum.role=='tek'"}],"mark":{"type":"text","align":"left","baseline":"middle","fontSize":13,"fontWeight":"bold","font":"Liberation Sans","color":"#222222"},"encoding":{"text":{"field":"s"}}},
{"data":{"name":"ctext"},"transform":[{"filter":"datum.role=='gray'"}],"mark":{"type":"text","align":"left","baseline":"middle","fontSize":13,"font":"Noto Sans CJK SC","color":"#707070"},"encoding":{"text":{"field":"s"}}},
{"data":{"name":"ctext"},"transform":[{"filter":"datum.role!='tek' && datum.role!='gray'"}],"mark":{"type":"text","align":"left","baseline":"middle","fontSize":11.5,"font":"Liberation Sans, Noto Sans CJK SC"},"encoding":{"text":{"field":"s"},"color":{"field":"role","type":"nominal","scale":{"domain":["black","blue","lblue"],"range":["#3a3a3a","#3b3bd0","#4a8fe0"]},"legend":null}}},
{"data":{"name":"ptext"},"transform":[{"filter":"datum.p=='BL'"}],"mark":{"type":"text","align":"left","baseline":"middle","fontSize":11.5,"font":"Liberation Sans, Noto Sans CJK SC"},"encoding":{"text":{"field":"s"},"color":{"field":"role","type":"nominal","scale":{"domain":["black","blue","lblue"],"range":["#3a3a3a","#3b3bd0","#4a8fe0"]},"legend":null}}},
{"data":{"name":"wm"},"transform":[{"filter":"datum.p=='BL'"}],"mark":{"type":"text","angle":-52,"fontSize":110,"font":"Liberation Sans","color":"#e06b6b","opacity":0.9,"align":"center","baseline":"middle"},"encoding":{"text":{"field":"s"}}}
]},
{"width":662,"height":393,"resolve":{"axis":{"x":"independent","y":"independent"}},
"encoding":{"x":{"field":"x","type":"quantitative","scale":{"domain":[-0.5,10.59],"nice":false,"zero":false},"axis":null},"y":{"field":"y","type":"quantitative","scale":{"domain":[-5.654,4.346],"nice":false,"zero":false},"axis":null}},
"layer":[
{"data":{"name":"frame"},"transform":[{"filter":"datum.k=='rbar'"}],"mark":{"type":"rect","fill":"#ffffff","stroke":"#cdae88","strokeWidth":1.2},"encoding":{"x2":{"field":"xe"},"y2":{"field":"ye"}}},
{"data":{"name":"frame"},"transform":[{"filter":"datum.k=='rin'"}],"mark":{"type":"rect","fill":"#ffffff","stroke":"#3d5ee0","strokeWidth":1},"encoding":{"x2":{"field":"xe"},"y2":{"field":"ye"}}},
{"data":{"name":"glines"},"transform":[{"filter":"datum.k=='rend'"}],"mark":{"type":"rule","color":"#111111","strokeWidth":1.6},"encoding":{"x2":{"field":"xe"},"y2":{"field":"ye"}}},
{"data":{"name":"frame"},"transform":[{"filter":"datum.k=='sbox'"}],"mark":{"type":"rect","fill":"#fcfcfc","stroke":"#8c8c8c","strokeWidth":1.5,"cornerRadius":6},"encoding":{"x2":{"field":"xe"},"y2":{"field":"ye"}}},
{"data":{"name":"glines"},"transform":[{"filter":"datum.k=='vdot'"}],"mark":{"type":"rule","color":"#a4a4a4","strokeWidth":1.6,"strokeDash":[1.6,6.26]},
"encoding":{"x":{"field":"x","type":"quantitative","scale":{"domain":[-0.5,10.59],"nice":false,"zero":false},"axis":{"orient":"top","offset":-328,"values":[0,0.2,0.4,0.6,0.8,1,1.2,1.4,1.6,1.8,2,2.2,2.4,2.6,2.8,3,3.2,3.4,3.6,3.8,4,4.2,4.4,4.6,4.8,5,5.2,5.4,5.6,5.8,6,6.2,6.4,6.6,6.8,7,7.2,7.4,7.6,7.8,8,8.2,8.4,8.6,8.8,9,9.2,9.4,9.6,9.8,10],"tickSize":4,"tickColor":"#c9a47e","tickWidth":1,"domain":false,"labels":false,"grid":false,"title":null}},"x2":{"field":"xe"},
"y":{"field":"y","type":"quantitative","scale":{"domain":[-5.654,4.346],"nice":false,"zero":false},"axis":{"orient":"right","offset":-632.1,"values":[-4,-3.8,-3.6,-3.4,-3.2,-3,-2.8,-2.6,-2.4,-2.2,-2,-1.8,-1.6,-1.4,-1.2,-1,-0.8,-0.6,-0.4,-0.2,0,0.2,0.4,0.6,0.8,1,1.2,1.4,1.6,1.8,2,2.2,2.4,2.6,2.8,3,3.2,3.4,3.6,3.8,4],"tickSize":4,"tickColor":"#c9a47e","tickWidth":1,"domain":false,"labels":false,"grid":false,"title":null}},"y2":{"field":"ye"}}},
{"data":{"name":"glines"},"transform":[{"filter":"datum.k=='hdot'"}],"mark":{"type":"rule","color":"#a4a4a4","strokeWidth":1.6,"strokeDash":[1.6,10.3]},
"encoding":{"x":{"field":"x","type":"quantitative","scale":{"domain":[-0.5,10.59],"nice":false,"zero":false},"axis":{"orient":"bottom","offset":-379.4,"values":[0,0.2,0.4,0.6,0.8,1,1.2,1.4,1.6,1.8,2,2.2,2.4,2.6,2.8,3,3.2,3.4,3.6,3.8,4,4.2,4.4,4.6,4.8,5,5.2,5.4,5.6,5.8,6,6.2,6.4,6.6,6.8,7,7.2,7.4,7.6,7.8,8,8.2,8.4,8.6,8.8,9,9.2,9.4,9.6,9.8,10],"tickSize":4,"tickColor":"#c9a47e","tickWidth":1,"domain":false,"labels":false,"grid":false,"title":null}},"x2":{"field":"xe"},
"y":{"field":"y","type":"quantitative","scale":{"domain":[-5.654,4.346],"nice":false,"zero":false},"axis":{"orient":"left","offset":-626.8,"values":[-4,-3.8,-3.6,-3.4,-3.2,-3,-2.8,-2.6,-2.4,-2.2,-2,-1.8,-1.6,-1.4,-1.2,-1,-0.8,-0.6,-0.4,-0.2,0,0.2,0.4,0.6,0.8,1,1.2,1.4,1.6,1.8,2,2.2,2.4,2.6,2.8,3,3.2,3.4,3.6,3.8,4],"tickSize":4,"tickColor":"#c9a47e","tickWidth":1,"domain":false,"labels":false,"grid":false,"title":null}},"y2":{"field":"ye"}}},
{"data":{"name":"glines"},"transform":[{"filter":"datum.k=='ctr'"}],"mark":{"type":"rule","color":"#707070","strokeWidth":1.2},
"encoding":{"x":{"field":"x","type":"quantitative","scale":{"domain":[-0.5,10.59],"nice":false,"zero":false},"axis":{"orient":"bottom","offset":-225.2,"values":[0,0.2,0.4,0.6,0.8,1,1.2,1.4,1.6,1.8,2,2.2,2.4,2.6,2.8,3,3.2,3.4,3.6,3.8,4,4.2,4.4,4.6,4.8,5,5.2,5.4,5.6,5.8,6,6.2,6.4,6.6,6.8,7,7.2,7.4,7.6,7.8,8,8.2,8.4,8.6,8.8,9,9.2,9.4,9.6,9.8,10],"tickSize":6,"tickColor":"#707070","tickWidth":1,"domain":false,"labels":false,"grid":false,"title":null}},"x2":{"field":"xe"},
"y":{"field":"y","type":"quantitative","scale":{"domain":[-5.654,4.346],"nice":false,"zero":false},"axis":{"orient":"left","offset":-331.3,"values":[-4,-3.8,-3.6,-3.4,-3.2,-3,-2.8,-2.6,-2.4,-2.2,-2,-1.8,-1.6,-1.4,-1.2,-1,-0.8,-0.6,-0.4,-0.2,0,0.2,0.4,0.6,0.8,1,1.2,1.4,1.6,1.8,2,2.2,2.4,2.6,2.8,3,3.2,3.4,3.6,3.8,4],"tickSize":6,"tickColor":"#707070","tickWidth":1,"domain":false,"labels":false,"grid":false,"title":null}},"y2":{"field":"ye"}}},
{"data":{"name":"frame"},"transform":[{"filter":"datum.k=='grid'"}],"mark":{"type":"rect","fill":"#ffffff","fillOpacity":0,"stroke":"#c9a47e","strokeWidth":1.5},"encoding":{"x2":{"field":"xe"},"y2":{"field":"ye"}}},
{"data":{"name":"wave"},"transform":[{"filter":"datum.p=='BR'"}],"mark":{"type":"area","color":"#1717e3","opacity":1},"encoding":{"y":{"field":"lo","type":"quantitative","scale":{"domain":[-5.654,4.346],"nice":false,"zero":false},"axis":null},"y2":{"field":"hi"}}},
{"data":{"name":"wave"},"transform":[{"filter":"datum.p=='BR'"}],"mark":{"type":"line","color":"#1717e3","strokeWidth":2},"encoding":{}},
{"data":{"name":"mk"},"mark":{"type":"point","filled":true,"opacity":1,"strokeWidth":0},"encoding":{
"shape":{"field":"k","type":"nominal","scale":{"domain":["gnd","trig","trigtop","lvl","rec","pill","tbox"],"range":["M-1,-1L0.35,-1L1,0L0.35,1L-1,1Z","M-0.8,-1.1L0.8,-1.1L0.8,0.5L0,1.1L-0.8,0.5Z","triangle-down","triangle-left","M-1,-1L1,-1L0.3,-0.2L0.3,1L-0.3,1L-0.3,-0.2Z","M-0.33,-0.5L0.33,-0.5A0.5,0.5 0 0 1 0.33,0.5L-0.33,0.5A0.5,0.5 0 0 1 -0.33,-0.5Z","square"]},"legend":null},
"fill":{"field":"k","type":"nominal","scale":{"domain":["gnd","trig","trigtop","lvl","rec","pill","tbox"],"range":["#1c2ea0","#1f6fd0","#1a2f8a","#1f3fd8","#2f6fd8","#1332c6","#2a80d8"]},"legend":null},
"size":{"field":"k","type":"ordinal","scale":{"type":"ordinal","domain":["gnd","trig","trigtop","lvl","rec","pill","tbox"],"range":[196,150,30,60,80,484,90]},"legend":null}}},
{"data":{"name":"mk"},"transform":[{"filter":"datum.lbl!=''"}],"mark":{"type":"text","color":"#ffffff","fontSize":9,"fontWeight":"bold","font":"Liberation Sans","align":"center","baseline":"middle"},"encoding":{"text":{"field":"lbl"}}},
{"data":{"name":"ctext"},"transform":[{"filter":"datum.role=='tek'"}],"mark":{"type":"text","align":"left","baseline":"middle","fontSize":13,"fontWeight":"bold","font":"Liberation Sans","color":"#222222"},"encoding":{"text":{"field":"s"}}},
{"data":{"name":"ctext"},"transform":[{"filter":"datum.role=='gray'"}],"mark":{"type":"text","align":"left","baseline":"middle","fontSize":13,"font":"Noto Sans CJK SC","color":"#707070"},"encoding":{"text":{"field":"s"}}},
{"data":{"name":"ctext"},"transform":[{"filter":"datum.role!='tek' && datum.role!='gray'"}],"mark":{"type":"text","align":"left","baseline":"middle","fontSize":11.5,"font":"Liberation Sans, Noto Sans CJK SC"},"encoding":{"text":{"field":"s"},"color":{"field":"role","type":"nominal","scale":{"domain":["black","blue","lblue"],"range":["#3a3a3a","#3b3bd0","#4a8fe0"]},"legend":null}}},
{"data":{"name":"ptext"},"transform":[{"filter":"datum.p=='BR'"}],"mark":{"type":"text","align":"left","baseline":"middle","fontSize":11.5,"font":"Liberation Sans, Noto Sans CJK SC"},"encoding":{"text":{"field":"s"},"color":{"field":"role","type":"nominal","scale":{"domain":["black","blue","lblue"],"range":["#3a3a3a","#3b3bd0","#4a8fe0"]},"legend":null}}}
]},
{"width":661,"height":80,"data":{"name":"cap"},"view":{"stroke":"#000000","strokeWidth":2},
"encoding":{"x":{"datum":0.5,"type":"quantitative","scale":{"domain":[0,1]},"axis":null},"y":{"datum":0.5,"type":"quantitative","scale":{"domain":[0,1]},"axis":null}},
"layer":[
{"transform":[{"filter":"datum.k=='o'"}],"mark":{"type":"text","align":"left","baseline":"alphabetic","font":"Liberation Sans","fontSize":20,"color":"#000000","dx":-46.4,"dy":-20},"encoding":{"text":{"field":"s"}}},
{"transform":[{"filter":"datum.k=='ch'"}],"mark":{"type":"text","align":"left","baseline":"alphabetic","font":"Liberation Sans","fontSize":20,"color":"#1f1ff0","dx":-39.7,"dy":-20},"encoding":{"text":{"field":"s"}}},
{"transform":[{"filter":"datum.k=='out'"}],"mark":{"type":"text","align":"left","baseline":"alphabetic","font":"Liberation Sans","fontSize":14,"color":"#1f1ff0","dx":20.3,"dy":-16},"encoding":{"text":{"field":"s"}}},
{"transform":[{"filter":"datum.k=='c'"}],"mark":{"type":"text","align":"left","baseline":"alphabetic","font":"Liberation Sans","fontSize":20,"color":"#000000","dx":39.8,"dy":-20},"encoding":{"text":{"field":"s"}}},
{"transform":[{"filter":"datum.k=='V'"}],"mark":{"type":"text","align":"left","baseline":"alphabetic","font":"Liberation Sans","fontSize":20,"color":"#000000","dx":-66.6,"dy":4},"encoding":{"text":{"field":"s"}}},
{"transform":[{"filter":"datum.k=='os'"}],"mark":{"type":"text","align":"left","baseline":"alphabetic","font":"Liberation Sans","fontSize":14,"color":"#000000","dx":-53.3,"dy":8},"encoding":{"text":{"field":"s"}}},
{"transform":[{"filter":"datum.k=='eq'"}],"mark":{"type":"text","align":"left","baseline":"alphabetic","font":"Liberation Sans","fontSize":20,"color":"#000000","dx":13.8,"dy":4},"encoding":{"text":{"field":"s"}}}
]},
{"width":662,"height":80,"data":{"name":"cap"},"view":{"stroke":"#000000","strokeWidth":2},
"encoding":{"x":{"datum":0.5,"type":"quantitative","scale":{"domain":[0,1]},"axis":null},"y":{"datum":0.5,"type":"quantitative","scale":{"domain":[0,1]},"axis":null}},
"layer":[
{"transform":[{"filter":"datum.k=='o'"}],"mark":{"type":"text","align":"left","baseline":"alphabetic","font":"Liberation Sans","fontSize":20,"color":"#000000","dx":-46.4,"dy":-20},"encoding":{"text":{"field":"s"}}},
{"transform":[{"filter":"datum.k=='ch'"}],"mark":{"type":"text","align":"left","baseline":"alphabetic","font":"Liberation Sans","fontSize":20,"color":"#1f1ff0","dx":-39.7,"dy":-20},"encoding":{"text":{"field":"s"}}},
{"transform":[{"filter":"datum.k=='out'"}],"mark":{"type":"text","align":"left","baseline":"alphabetic","font":"Liberation Sans","fontSize":14,"color":"#1f1ff0","dx":20.3,"dy":-16},"encoding":{"text":{"field":"s"}}},
{"transform":[{"filter":"datum.k=='c'"}],"mark":{"type":"text","align":"left","baseline":"alphabetic","font":"Liberation Sans","fontSize":20,"color":"#000000","dx":39.8,"dy":-20},"encoding":{"text":{"field":"s"}}},
{"transform":[{"filter":"datum.k=='V'"}],"mark":{"type":"text","align":"left","baseline":"alphabetic","font":"Liberation Sans","fontSize":20,"color":"#000000","dx":-66.6,"dy":4},"encoding":{"text":{"field":"s"}}},
{"transform":[{"filter":"datum.k=='os'"}],"mark":{"type":"text","align":"left","baseline":"alphabetic","font":"Liberation Sans","fontSize":14,"color":"#000000","dx":-53.3,"dy":8},"encoding":{"text":{"field":"s"}}},
{"transform":[{"filter":"datum.k=='eq'"}],"mark":{"type":"text","align":"left","baseline":"alphabetic","font":"Liberation Sans","fontSize":20,"color":"#000000","dx":13.8,"dy":4},"encoding":{"text":{"field":"s"}}}
]}
]
}
